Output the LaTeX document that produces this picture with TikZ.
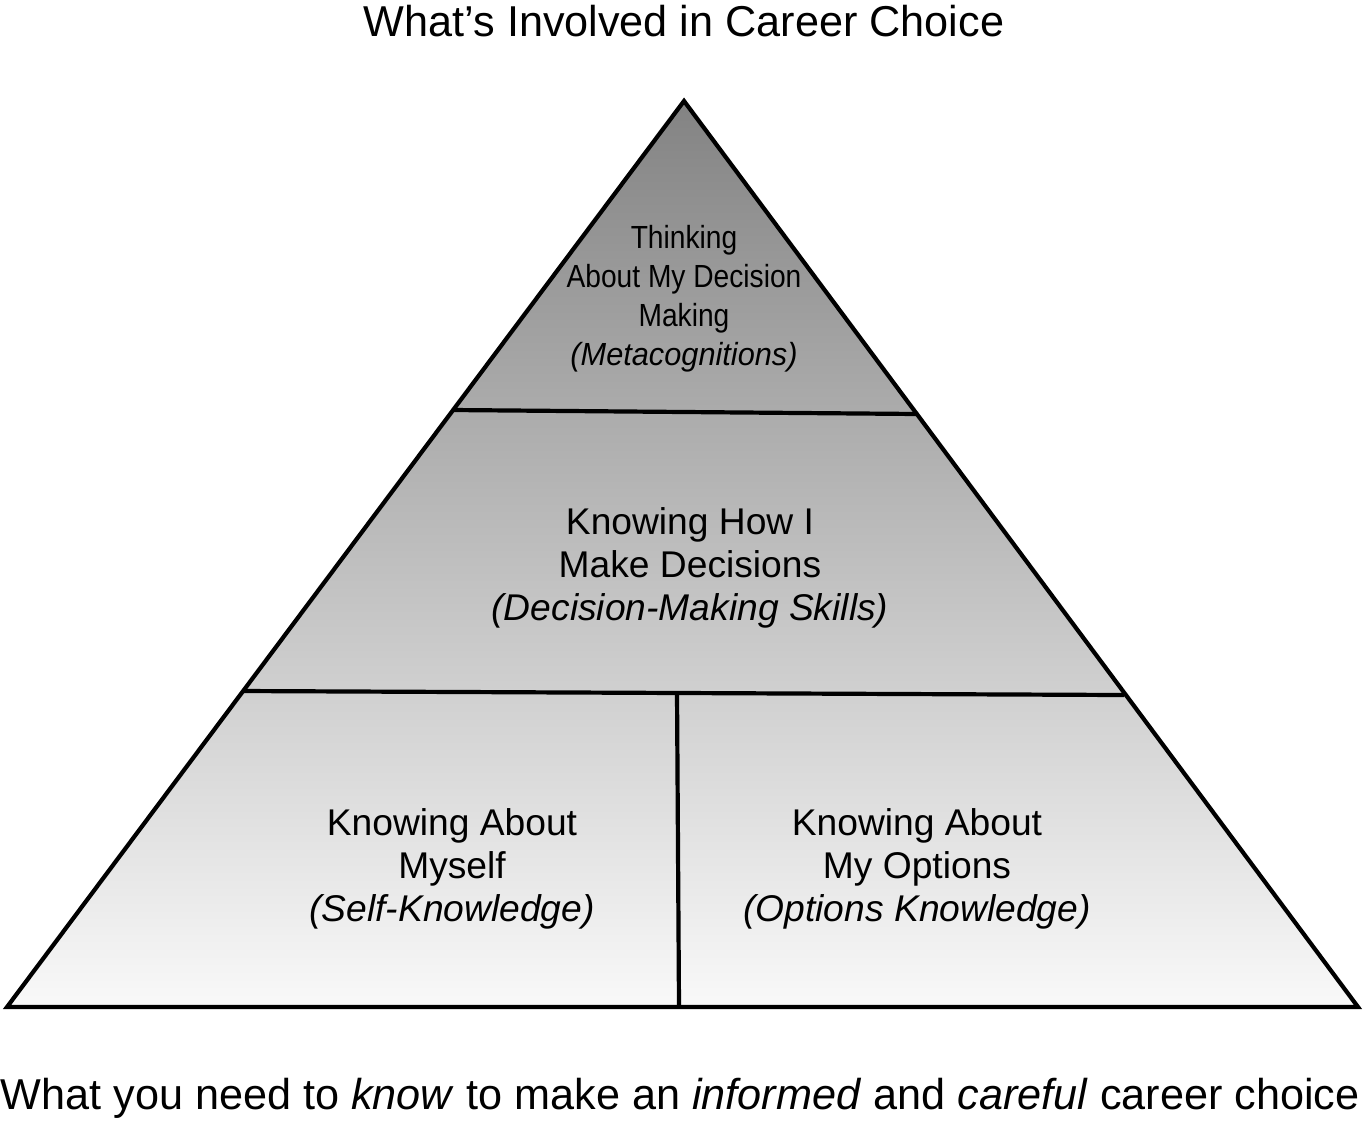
\documentclass[tikz,border=0pt]{standalone}
\usepackage{fontspec}
\setmainfont{Liberation Sans}
\newfontfamily\narrowfont[FakeStretch=0.88]{Liberation Sans}
\newfontfamily\semifont[FakeStretch=0.96]{Liberation Sans}
\usepackage{tikz}

\definecolor{pyrtop}{HTML}{838383}
\definecolor{pyrbot}{HTML}{F9F9F9}

\tikzset{
  pyrline/.style={black,line width=2.1pt},
  lvllabel/.style={align=center,font=\fontsize{18.6}{21.5}\selectfont},
  toplabel/.style={align=center,font=\narrowfont\fontsize{16}{19.5}\selectfont},
  headline/.style={font=\fontsize{21.6}{26}\selectfont}
}

\begin{document}
\begin{tikzpicture}[x=0.5pt,y=-0.5pt]
    \useasboundingbox (0,0) rectangle (1363,1121);

    \coordinate (apex) at (684,101);
    \coordinate (bl) at (7,1007);
    \coordinate (br) at (1358,1007);

    \shade[top color=pyrtop,bottom color=pyrbot] (apex) -- (br) -- (bl) -- cycle;

    % dividers
    \coordinate (t1) at (453,410);
    \coordinate (t2) at (918,414);
    \coordinate (m1) at (243,691);
    \coordinate (m2) at (1124,695);
    \coordinate (v1) at (677,693);
    \coordinate (v2) at (679,1007);
    \draw[pyrline] (t1) -- (t2);
    \draw[pyrline] (m1) -- (m2);
    \draw[pyrline] (v1) -- (v2);

    \draw[pyrline] (apex) -- (br) -- (bl) -- cycle;

    \node[headline] (title) at (684,21) {What’s Involved in Career Choice};

    \node[toplabel] (thinking) at (684,299) {Thinking\\About My Decision\\Making\\{\semifont\itshape(Metacognitions)}};
    \node[lvllabel] (howi) at (690,568) {Knowing How I\\Make Decisions\\\textit{(Decision-Making Skills)}};
    \node[lvllabel] (myself) at (452,869) {Knowing About\\Myself\\\textit{(Self-Knowledge)}};
    \node[lvllabel] (options) at (917,869) {Knowing About\\My Options\\\textit{(Options Knowledge)}};

    \node[headline] (footer) at (680,1098) {What you need to \textit{know} to make an \textit{informed} and \textit{careful} career choice};
\end{tikzpicture}
\end{document}
